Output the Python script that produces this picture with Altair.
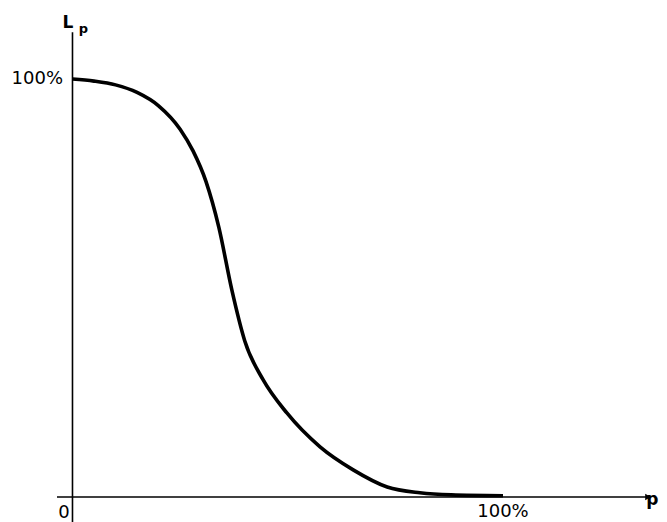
import altair as alt
import pandas as pd

# OC curve: probability of acceptance L_p versus fraction defective p (percent)
p_vals = [0, 5, 10, 15, 20, 25, 28, 31, 34, 37, 40, 44.3, 49.8, 57.5, 65.2, 73.1, 80.7, 88, 100]
L_vals = [100, 99.5, 98.6, 96.8, 93.6, 88.0, 82.8, 75.5, 64.5, 49.6, 37.4, 28.0,
          20.1, 12.0, 6.5, 2.4, 1.0, 0.5, 0.3]

# axis lines (data units)
axis_x1 = [-3.6, 0.0]
axis_x2 = [133.7, 0.0]
axis_y1 = [0.0, -6.0]
axis_y2 = [0.0, 111.2]

# text labels
label_text = ["100%", "0", "100%", "p"]
label_x = [-2.2, -2.0, 100.0, 136.1]
label_y = [100.0, -3.8, -3.6, -0.7]
label_align = ["right", "center", "center", "right"]
label_weight = ["normal", "normal", "normal", "bold"]

W, H = 651, 514
x_scale = alt.Scale(domain=[-14.98, 136.24], nice=False, zero=False)
y_scale = alt.Scale(domain=[-5.98, 116.99], nice=False, zero=False)
FONT = "DejaVu Sans"

curve_df = pd.DataFrame({"p": p_vals, "L": L_vals})
axes_df = pd.DataFrame({"x": axis_x1, "x2": axis_x2, "y": axis_y1, "y2": axis_y2})
labels_df = pd.DataFrame({"t": label_text, "x": label_x, "y": label_y,
                          "a": label_align, "w": label_weight})

axes = alt.Chart(axes_df).mark_rule(color="black", strokeWidth=1.6).encode(
    x=alt.X("x:Q", scale=x_scale, axis=None),
    x2="x2:Q",
    y=alt.Y("y:Q", scale=y_scale, axis=None),
    y2="y2:Q",
)

arrow = alt.Chart(pd.DataFrame({"x": [axis_x2[0]], "y": [0.0]})).mark_point(
    shape="triangle-right", filled=True, color="black", size=45, opacity=1
).encode(
    x=alt.X("x:Q", scale=x_scale, axis=None),
    y=alt.Y("y:Q", scale=y_scale, axis=None),
)

curve = alt.Chart(curve_df).mark_line(
    color="black", strokeWidth=3.6, interpolate="monotone"
).encode(
    x=alt.X("p:Q", scale=x_scale, axis=None),
    y=alt.Y("L:Q", scale=y_scale, axis=None),
)

base_text = alt.Chart(labels_df)
txt_right = base_text.transform_filter(
    (alt.datum.a == "right") & (alt.datum.w == "normal")
).mark_text(
    align="right", baseline="middle", font=FONT, fontSize=18, color="black"
).encode(
    x=alt.X("x:Q", scale=x_scale, axis=None),
    y=alt.Y("y:Q", scale=y_scale, axis=None),
    text="t:N",
)
txt_center = base_text.transform_filter(
    (alt.datum.a == "center") & (alt.datum.w == "normal")
).mark_text(
    align="center", baseline="middle", font=FONT, fontSize=18, color="black"
).encode(
    x=alt.X("x:Q", scale=x_scale, axis=None),
    y=alt.Y("y:Q", scale=y_scale, axis=None),
    text="t:N",
)
txt_bold = base_text.transform_filter(alt.datum.w == "bold").mark_text(
    align="right", baseline="middle", font=FONT, fontSize=17, fontWeight="bold", color="black"
).encode(
    x=alt.X("x:Q", scale=x_scale, axis=None),
    y=alt.Y("y:Q", scale=y_scale, axis=None),
    text="t:N",
)

# y-axis title L with subscript p
lp_df = pd.DataFrame({"t": ["L", "p"], "x": [-1.05, 2.55], "y": [113.4, 111.9]})
lp_main = alt.Chart(lp_df).transform_filter(alt.datum.t == "L").mark_text(
    align="center", baseline="middle", font=FONT, fontSize=17, fontWeight="bold", color="black"
).encode(
    x=alt.X("x:Q", scale=x_scale, axis=None),
    y=alt.Y("y:Q", scale=y_scale, axis=None),
    text="t:N",
)
lp_sub = alt.Chart(lp_df).transform_filter(alt.datum.t == "p").mark_text(
    align="center", baseline="middle", font=FONT, fontSize=13, fontWeight="bold", color="black"
).encode(
    x=alt.X("x:Q", scale=x_scale, axis=None),
    y=alt.Y("y:Q", scale=y_scale, axis=None),
    text="t:N",
)

chart = alt.layer(axes, arrow, curve, txt_right, txt_center, txt_bold, lp_main, lp_sub).properties(
    width=W, height=H, padding=0, autosize=alt.AutoSizeParams(type="none"),
    background="white",
).configure_view(stroke=None)

chart.save("out.html", embed_options={"renderer": "svg", "actions": False})
